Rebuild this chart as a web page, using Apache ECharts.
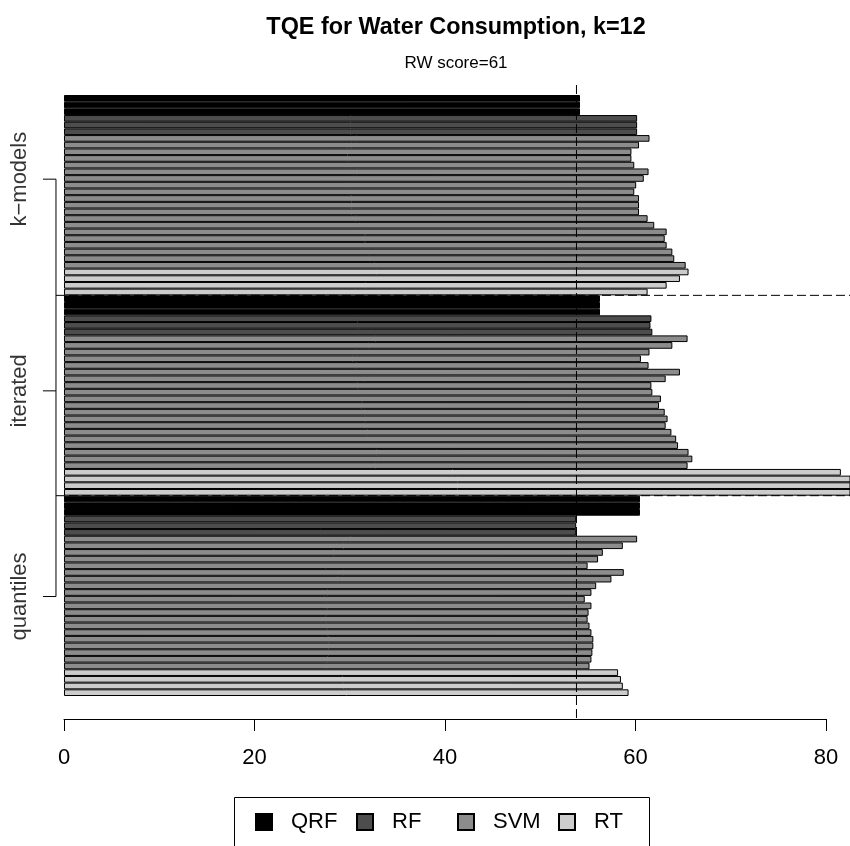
<!DOCTYPE html>
<html>
<head>
<meta charset="utf-8">
<script src="https://cdn.jsdelivr.net/npm/echarts@6/dist/echarts.min.js"></script>
<style>
  html, body { margin: 0; padding: 0; background: #ffffff; }
  #chart { width: 850px; height: 846px; }
</style>
</head>
<body>
<div id="chart"></div>
<script>
// ---- data ----
const groups = ['k\u2212models', 'iterated', 'quantiles'];
const models = ['QRF', 'RF', 'SVM', 'RT'];

const kmodelsQRF = [54.2, 54.2, 54.2];
const kmodelsRF  = [60.2, 60.2, 60.2];
const kmodelsSVM = [61.5, 60.4, 59.6, 59.6, 59.9, 61.4, 60.9, 60.1, 59.9, 60.4,
                    60.4, 60.4, 61.3, 62.0, 63.3, 63.1, 63.3, 63.9, 64.1, 65.3];
const kmodelsRT  = [65.6, 64.7, 63.3, 61.3];

const iteratedQRF = [56.3, 56.3, 56.3];
const iteratedRF  = [61.7, 61.6, 61.8];
const iteratedSVM = [65.5, 63.9, 61.5, 60.6, 61.4, 64.7, 63.2, 61.7, 61.8, 62.7,
                     62.5, 63.1, 63.4, 63.2, 63.8, 64.3, 64.5, 65.6, 66.0, 65.5];
const iteratedRT  = [81.6, 86.0, 88.0, 85.5];

const quantilesQRF = [60.5, 60.5, 60.5];
const quantilesRF  = [53.8, 53.8, 53.8];
const quantilesSVM = [60.2, 58.7, 56.6, 56.1, 55.0, 58.8, 57.5, 55.9, 55.4, 54.7,
                      55.4, 55.1, 55.0, 55.2, 55.4, 55.6, 55.6, 55.5, 55.4, 55.2];
const quantilesRT  = [58.2, 58.5, 58.7, 59.3];

const rwScore = 53.83;
const rwLabel = 'RW score=61';
const xTicks = [0, 20, 40, 60, 80];
// group label positions, in bar-row units counted from the top
const groupTickPos = [12.6, 44.3, 75.1];
const titleText = 'TQE for Water Consumption, k=12';

// ---- styling ----
const FONT = 'Liberation Sans, Arial, Helvetica, sans-serif';
const modelColors = { QRF: '#000000', RF: '#4d4d4d', SVM: '#8c8c8c', RT: '#cccccc' };
const X_MIN = -0.84, X_MAX = 82.56;      // plot region extent in data units
const X_PAGE_MIN = -6.72;                // data value at the left page edge
const Y_MIN = -1.5, Y_MAX = 93.44;       // plot region extent in bar rows

// ---- build rows (top to bottom) ----
const groupData = [
  [kmodelsQRF, kmodelsRF, kmodelsSVM, kmodelsRT],
  [iteratedQRF, iteratedRF, iteratedSVM, iteratedRT],
  [quantilesQRF, quantilesRF, quantilesSVM, quantilesRT]
];
const rows = [];
groupData.forEach((g, gi) => {
  g.forEach((vals, mi) => {
    vals.forEach((v, k) => rows.push({ group: groups[gi], model: models[mi], value: v, id: groups[gi] + ' ' + models[mi] + ' ' + (k + 1) }));
  });
});
const categories = rows.map(r => r.id);

const barSeries = models.map(m => ({
  name: m,
  type: 'bar',
  xAxisIndex: 0,
  yAxisIndex: 0,
  barGap: '-100%',
  barCategoryGap: 0,
  data: rows.map(r => (r.model === m ? r.value : '-')),
  itemStyle: { color: modelColors[m], borderColor: '#000', borderWidth: 1 },
  emphasis: { disabled: true },
  silent: true
}));

// group boundaries (row index where a new group starts)
const boundaries = [];
let acc = 0;
groupData.forEach((g, gi) => {
  acc += g.reduce((s, a) => s + a.length, 0);
  if (gi < groupData.length - 1) boundaries.push(acc);
});

const dash = [9, 4];
function seg(points, extra) {
  return Object.assign({
    type: 'line', xAxisIndex: 2, yAxisIndex: 2, data: points,
    symbol: 'none', silent: true,
    lineStyle: { color: '#000', width: 1 }
  }, extra || {});
}

const overlay = [];
// RW score reference line
overlay.push(seg([[rwScore, Y_MIN], [rwScore, Y_MAX]], { lineStyle: { color: '#000', width: 1, type: dash } }));
// group separators
boundaries.forEach(b => overlay.push(seg([[X_MIN, b], [X_MAX, b]], { lineStyle: { color: '#000', width: 1, type: dash } })));
// left group axis
overlay.push(seg([[X_MIN, groupTickPos[0]], [X_MIN, groupTickPos[groupTickPos.length - 1]]]));
groupTickPos.forEach(p => overlay.push(seg([[X_MIN, p], [X_MIN - 1.37, p]])));
// group labels
overlay.push({
  type: 'scatter', xAxisIndex: 2, yAxisIndex: 2, silent: true,
  symbolSize: 0,
  data: groupTickPos.map((p, i) => ({ value: [X_MIN - 3.8, p], name: groups[i] })),
  label: {
    show: true, position: 'inside', rotate: 90,
    formatter: d => d.name,
    fontFamily: FONT, fontSize: 22, color: '#000'
  }
});

// legend: one evenly spaced column per model, inside a framed box
const LEGEND_LEFT = 255, LEGEND_STEP = 101, LEGEND_TOP = 811;
const legends = models.map((m, i) => ({
  data: [m],
  left: LEGEND_LEFT + LEGEND_STEP * i,
  top: LEGEND_TOP,
  orient: 'horizontal',
  icon: 'rect',
  itemWidth: 16, itemHeight: 16,
  padding: 0,
  selectedMode: false,
  textStyle: { fontFamily: FONT, fontSize: 22, color: '#000', padding: [0, 0, 0, 14] }
}));

const chart = echarts.init(document.getElementById('chart'), null, { renderer: 'canvas' });
chart.setOption({
  animation: false,
  backgroundColor: '#ffffff',
  title: [
    { text: titleText, left: 451, top: 11, textAlign: 'center',
      textStyle: { fontFamily: FONT, fontSize: 23.4, fontWeight: 'bold', color: '#000' } },
    { text: rwLabel, left: 451, top: 50, textAlign: 'center',
      textStyle: { fontFamily: FONT, fontSize: 17, fontWeight: 'normal', color: '#000' } }
  ],
  legend: legends,
  graphic: [{
    type: 'rect', silent: true,
    shape: { x: 234.5, y: 797.5, width: 415, height: 60 },
    style: { fill: null, stroke: '#000', lineWidth: 1 }
  }],
  grid: [
    { left: 56, right: 0, top: 95, bottom: 150 },
    { left: 64, right: 24, top: 700, bottom: 127 },
    { left: 0, right: 0, top: 85, bottom: 127 }
  ],
  xAxis: [
    { gridIndex: 0, type: 'value', min: X_MIN, max: X_MAX, show: false },
    { gridIndex: 1, type: 'value', min: xTicks[0], max: xTicks[xTicks.length - 1], interval: xTicks[1] - xTicks[0],
      axisLine: { show: true, onZero: false, lineStyle: { color: '#000', width: 1 } },
      axisTick: { show: true, length: 12, lineStyle: { color: '#000', width: 1 } },
      axisLabel: { fontFamily: FONT, fontSize: 22, color: '#000', margin: 28 },
      splitLine: { show: false } },
    { gridIndex: 2, type: 'value', min: X_PAGE_MIN, max: X_MAX, show: false }
  ],
  yAxis: [
    { gridIndex: 0, type: 'category', data: categories, inverse: true, show: false },
    { gridIndex: 1, type: 'value', show: false },
    { gridIndex: 2, type: 'value', min: Y_MIN, max: Y_MAX, inverse: true, show: false }
  ],
  series: barSeries.concat(overlay)
});
</script>
</body>
</html>
